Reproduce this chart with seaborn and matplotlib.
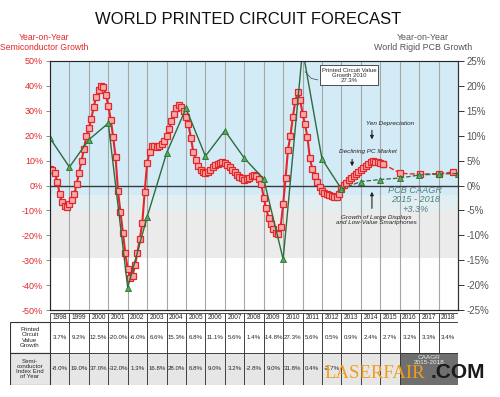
import numpy as np
import matplotlib.pyplot as plt
import seaborn as sns
from matplotlib.patches import Rectangle

# semiconductor growth (left axis, %), read roughly every 1.5 months from Jan 1998
semi_growth = [
    6.7, 6.3, 5.0, 1.5, -3.5, -6.8, -8.3, -8.5,
    -7.6, -6.0, -3.5, 0.6, 5.2, 10.0, 14.8, 19.8,
    23.0, 26.8, 31.5, 35.7, 38.5, 40.0, 39.5, 36.5,
    32.0, 26.5, 19.5, 11.5, -2.3, -10.5, -19.0, -27.0,
    -33.6, -37.0, -36.3, -32.0, -27.0, -21.3, -15.0, -2.5,
    9.2, 13.5, 15.7, 16.0, 15.6, 15.8, 16.5, 17.9,
    20.0, 22.8, 25.8, 28.8, 31.0, 32.2, 31.7, 29.8,
    27.6, 24.5, 19.2, 13.6, 10.3, 8.0, 6.3, 5.5,
    5.0, 5.6, 6.4, 7.4, 8.3, 8.8, 9.2, 9.4,
    9.0, 8.3, 7.3, 6.4, 5.4, 4.4, 3.6, 2.9,
    2.4, 2.6, 3.0, 3.8, 4.3, 3.8, 2.6, 0.5,
    -5.0, -9.2, -13.0, -15.3, -17.5, -19.1, -19.6, -16.5,
    -7.5, 3.0, 14.4, 20.0, 27.5, 34.0, 37.5, 34.5,
    28.8, 24.5, 19.5, 11.0, 6.8, 4.0, 1.3, -0.8,
    -2.3, -3.0, -3.5, -3.8, -4.1, -4.5, -4.5, -3.4,
    -0.9, 0.2, 1.1, 2.2, 3.0, 3.8, 4.6, 5.6,
    6.3, 7.0, 7.9, 8.8, 9.5, 9.7, 9.6, 9.4,
    9.1, 8.7,
]
semi_fc_x = [2016.04, 2017.04, 2018.04, 2018.76]
semi_fc = [4.9, 4.5, 4.8, 5.4]

# world rigid PCB growth (right axis, %), year-end points 1997..2018
pcb_years = list(range(1997, 2019))
pcb_growth = [9.5, 3.7, 9.2, 12.5, -20.5, -6.3, 6.5, 15.5, 5.9, 11.0, 5.5,
              1.3, -14.8, 27.3, 5.3, -0.7, 0.8, 1.2, 1.5, 2.1, 2.3, 2.4]

years = list(range(1998, 2019))
pcb_row = ["3.7%", "9.2%", "12.5%", "-20.0%", "-6.0%", "6.6%", "15.3%", "6.8%",
           "11.1%", "5.6%", "1.4%", "-14.8%", "27.3%", "5.6%", "0.5%", "0.9%",
           "2.4%", "2.7%", "3.2%", "3.3%", "3.4%"]
# 2013-2015 are hidden under the watermark in the source
semi_row = ["-8.0%", "19.0%", "37.0%", "-32.0%", "1.3%", "16.8%", "28.0%", "6.8%",
            "9.0%", "3.2%", "-2.8%", "9.0%", "31.8%", "0.4%", "-2.7%", "", "", ""]

RED = "#e3262a"
GREEN = "#2f6b3c"

sns.set_style("white")
plt.rcParams["font.family"] = ["Liberation Sans", "DejaVu Sans"]

fig = plt.figure(figsize=(5, 3.97), dpi=100)
ax = fig.add_axes([50 / 500, 1 - 310 / 397, 408 / 500, 249 / 397])

# background bands
ax.axhspan(-4, 50, color="#d3ebf6", lw=0, zorder=0)
ax.axhspan(-10, -4, color="#e2eff2", lw=0, zorder=0)
ax.axhspan(-29, -10, color="#ebebeb", lw=0, zorder=0)

red_x = 1998 + np.arange(len(semi_growth)) / 8
sns.lineplot(x=red_x, y=semi_growth, ax=ax, color=RED, lw=1.5, marker="s",
             markersize=4.0, markerfacecolor="#f6aaaa", markeredgecolor=RED,
             markeredgewidth=0.9, zorder=4)
sns.lineplot(x=[red_x[-1]] + semi_fc_x, y=[semi_growth[-1]] + semi_fc, ax=ax,
             color=RED, lw=1.0, linestyle="--", marker="s", markersize=4.0,
             markerfacecolor="#f6aaaa", markeredgecolor=RED, markeredgewidth=0.9,
             zorder=4)
ax.axhline(0, color="#3a3a3a", lw=1.0, zorder=2)

ax.set_xlim(1998, 2019)
ax.set_ylim(-50, 50)
ax.set_xticks(range(1998, 2020))
ax.tick_params(axis="x", length=0, labelbottom=False)
ax.xaxis.grid(True, color="#a6a6a6", lw=0.8)
ax.set_yticks(range(-50, 51, 10))
ax.set_yticklabels([f"{v}%" for v in range(-50, 51, 10)])
ax.tick_params(axis="y", labelcolor=RED, color="#777777", labelsize=6.5,
               length=3, width=0.6, pad=2, left=True)
for side, col in [("left", "#888888"), ("top", "#9a9a9a"), ("bottom", "#555555"),
                  ("right", "#333333")]:
    ax.spines[side].set_color(col)
    ax.spines[side].set_linewidth(0.8)

ax2 = ax.twinx()
gx = [y + 1 for y in pcb_years]
sns.lineplot(x=gx[:16], y=pcb_growth[:16], ax=ax2, color=GREEN, lw=1.0, marker="^",
             markersize=4.5, markerfacecolor="#4caf50", markeredgecolor=GREEN,
             markeredgewidth=0.6)
sns.lineplot(x=gx[15:], y=pcb_growth[15:], ax=ax2, color=GREEN, lw=0.9, linestyle="--",
             marker="^", markersize=4.5, markerfacecolor="#4caf50",
             markeredgecolor=GREEN, markeredgewidth=0.6)
ax2.set_ylim(-25, 25)
ax2.set_yticks(range(-25, 26, 5))
ax2.set_yticklabels([f"{v}%" for v in range(-25, 26, 5)])
ax2.tick_params(axis="y", labelcolor="#555555", color="#333333", labelsize=7,
                length=4, width=0.7, pad=2, right=True)
ax2.spines["right"].set_color("#333333")
ax2.set_ylabel("")
ax.set_ylabel("")

# annotations
ax.text(2013.39, 44.2, "Printed Circuit Value\nGrowth 2010\n27.3%", fontsize=4.3,
        ha="center", va="center", linespacing=1.1, zorder=6,
        bbox=dict(boxstyle="square,pad=0.35", fc="white", ec="#333333", lw=0.6))
ax.plot([2011.13, 2011.45, 2011.79], [45.7, 43.0, 42.4], color="#444444", lw=0.5, zorder=5)
ax.text(2015.5, 25, "Yen Depreciation", fontsize=4.6, style="italic", ha="center",
        va="center", color="#222222")
ax.annotate("", xy=(2014.57, 17.4), xytext=(2014.57, 23.3),
            arrowprops=dict(arrowstyle="-|>", lw=0.8, color="#222222", mutation_scale=5))
ax.text(2014.37, 13.7, "Declining PC Market", fontsize=4.6, style="italic",
        ha="center", va="center", color="#222222")
ax.annotate("", xy=(2013.55, 6.6), xytext=(2013.55, 11.6),
            arrowprops=dict(arrowstyle="-|>", lw=0.8, color="#222222", mutation_scale=5))
ax.text(2016.8, -5.7, "PCB CAAGR\n2015 - 2018\n+3.3%", fontsize=6.6, style="italic",
        ha="center", va="center", color="#4f7f80", linespacing=1.05)
ax.text(2014.8, -13.8, "Growth of Large Displays\nand Low-Value Smartphones",
        fontsize=4.5, style="italic", ha="center", va="center", color="#222222",
        linespacing=1.1)
ax.annotate("", xy=(2014.57, -1.4), xytext=(2014.57, -10.3),
            arrowprops=dict(arrowstyle="-|>", lw=0.8, color="#222222", mutation_scale=5))

# title and axis captions
fig.text(248 / 500, 1 - 20 / 397, "WORLD PRINTED CIRCUIT FORECAST", fontsize=12,
         ha="center", va="center", color="#111111")
fig.text(44 / 500, 1 - 42.5 / 397, "Year-on-Year\nSemiconductor Growth", fontsize=6.2,
         ha="center", va="center", color=RED, linespacing=1.15)
fig.text(423 / 500, 1 - 42.5 / 397, "Year-on-Year\nWorld Rigid PCB Growth", fontsize=6.4,
         ha="center", va="center", color="#555555", linespacing=1.15)

# data table under the chart
col_w = 408 / 21
x0 = 1998 - 40 / col_w
tax = fig.add_axes([10 / 500, 1 - 385 / 397, 448 / 500, 72 / 397])
tax.set_xlim(x0, 2019)
tax.set_ylim(385, 313)
tax.axis("off")

rows = [(313, 322), (322, 353), (353, 385)]
edge = "#333333"
for i, yr in enumerate(years):
    tax.add_patch(Rectangle((yr, rows[0][0]), 1, rows[0][1] - rows[0][0], fc="white",
                            ec=edge, lw=0.6))
    tax.text(yr + 0.5, sum(rows[0]) / 2, str(yr), fontsize=4.8, ha="center", va="center")
    tax.add_patch(Rectangle((yr, rows[1][0]), 1, rows[1][1] - rows[1][0], fc="white",
                            ec=edge, lw=0.6))
    tax.text(yr + 0.5, sum(rows[1]) / 2, pcb_row[i], fontsize=4.4, ha="center", va="center")
    if i < len(semi_row):
        tax.add_patch(Rectangle((yr, rows[2][0]), 1, rows[2][1] - rows[2][0], fc="#e6e6e6",
                                ec=edge, lw=0.6))
        if semi_row[i]:
            tax.text(yr + 0.5, sum(rows[2]) / 2, semi_row[i], fontsize=4.4, ha="center",
                     va="center")
tax.add_patch(Rectangle((2016, rows[2][0]), 3, rows[2][1] - rows[2][0], fc="#6f6f6f",
                        ec=edge, lw=0.6))
tax.text(2017.5, 360, "CAAGR\n2015-2018", fontsize=4.6, ha="center", va="center",
         color="#eeeeee", linespacing=1.1)
tax.add_patch(Rectangle((x0, rows[1][0]), 1998 - x0, rows[1][1] - rows[1][0], fc="white",
                        ec=edge, lw=0.8))
tax.text((x0 + 1998) / 2, sum(rows[1]) / 2, "Printed\nCircuit\nValue\nGrowth",
         fontsize=4.4, ha="center", va="center", linespacing=1.05)
tax.add_patch(Rectangle((x0, rows[2][0]), 1998 - x0, rows[2][1] - rows[2][0], fc="#e6e6e6",
                        ec=edge, lw=0.8))
tax.text((x0 + 1998) / 2, sum(rows[2]) / 2, "Semi-\nconductor\nIndex End\nof Year",
         fontsize=4.4, ha="center", va="center", linespacing=1.05)

# site watermark
fig.text(375 / 500, 1 - 373 / 397, "LASERFAIR", fontsize=13.5, ha="center", va="center",
         color="#f39c1a", family=["Liberation Serif", "DejaVu Serif"], zorder=10)
fig.text(458 / 500, 1 - 373 / 397, ".COM", fontsize=15, ha="center", va="center",
         color="#1a1a1a", weight="bold", zorder=10)

fig.savefig("out.png", dpi=100)
